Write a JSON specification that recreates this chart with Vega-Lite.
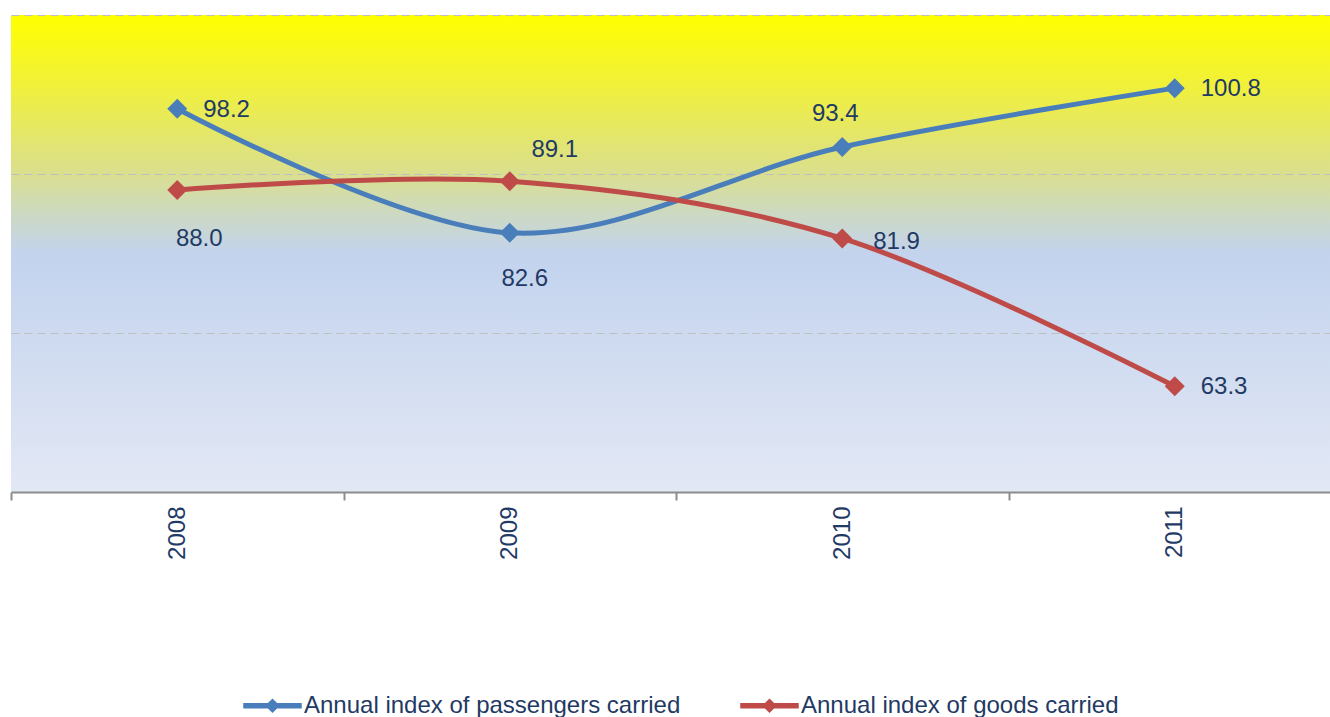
{
  "$schema": "https://vega.github.io/schema/vega-lite/v6.json",
  "autosize": "none",
  "width": 1319,
  "height": 477,
  "padding": {"left": 11, "top": 15, "right": 0, "bottom": 225},
  "background": "white",
  "config": {
    "font": "Liberation Sans",
    "view": {
      "stroke": null,
      "fill": {
        "gradient": "linear",
        "x1": 0, "y1": 0, "x2": 0, "y2": 1,
        "stops": [
          {"offset": 0, "color": "#FFFF00"},
          {"offset": 0.15, "color": "#F0F03C"},
          {"offset": 0.32, "color": "#DCE088"},
          {"offset": 0.42, "color": "#CCD9C4"},
          {"offset": 0.5, "color": "#C3D3EE"},
          {"offset": 0.7, "color": "#CFDBF0"},
          {"offset": 1, "color": "#E3E8F5"}
        ]
      }
    },
    "legend": {
      "title": null, "orient": "none", "direction": "horizontal", "legendX": 232, "legendY": 661,
      "symbolType": "M-1,-0.07L1,-0.07L1,0.07L-1,0.07Z M0,-0.22L0.22,0L0,0.22L-0.22,0Z",
      "symbolSize": 3249, "labelFontSize": 24, "labelColor": "#1F3A64",
      "labelOffset": 2, "columnPadding": 57, "labelLimit": 600, "labelFont": "Liberation Sans"
    }
  },
  "data": {
    "values": [
      {"year": "2008", "series": "Annual index of passengers carried", "value": 98.2},
      {"year": "2009", "series": "Annual index of passengers carried", "value": 82.6},
      {"year": "2010", "series": "Annual index of passengers carried", "value": 93.4},
      {"year": "2011", "series": "Annual index of passengers carried", "value": 100.8},
      {"year": "2008", "series": "Annual index of goods carried", "value": 88.0},
      {"year": "2009", "series": "Annual index of goods carried", "value": 89.1},
      {"year": "2010", "series": "Annual index of goods carried", "value": 81.9},
      {"year": "2011", "series": "Annual index of goods carried", "value": 63.3}
    ]
  },
  "encoding": {
    "x": {
      "field": "year", "type": "nominal", "sort": null,
      "scale": {"type": "band", "paddingInner": 0, "paddingOuter": 0, "range": [0, 1330]},
      "axis": {
        "title": null, "labelAngle": -90, "labelFontSize": 24, "labelColor": "#1F3A64",
        "labelPadding": 6, "tickSize": 8, "tickBand": "extent", "tickColor": "#8C8C8C", "tickWidth": 2,
        "domainColor": "#8C8C8C", "domainWidth": 2, "grid": false, "labelFont": "Liberation Sans"
      }
    },
    "y": {
      "field": "value", "type": "quantitative",
      "scale": {"domain": [50, 110], "nice": false, "zero": false},
      "axis": {
        "title": null, "values": [70, 90, 110], "labels": false, "ticks": false, "domain": false,
        "grid": true, "gridDash": [8, 5], "gridColor": "#BFBFBF", "gridWidth": 1
      }
    }
  },
  "layer": [
    {
      "mark": {"type": "line", "interpolate": "cardinal", "tension": 0, "strokeWidth": 5},
      "encoding": {
        "color": {
          "field": "series", "type": "nominal",
          "scale": {"domain": ["Annual index of passengers carried", "Annual index of goods carried"], "range": ["#4A7EBB", "#BE4B48"]}
        }
      }
    },
    {
      "mark": {"type": "point", "shape": "diamond", "filled": true, "size": 400, "opacity": 1},
      "encoding": {
        "color": {
          "field": "series", "type": "nominal",
          "scale": {"domain": ["Annual index of passengers carried", "Annual index of goods carried"], "range": ["#4A7EBB", "#BE4B48"]}
        }
      }
    },
    {
      "transform": [{"filter": "(datum.series == 'Annual index of passengers carried' && (datum.year == '2008' || datum.year == '2011')) || (datum.series == 'Annual index of goods carried' && datum.year == '2011')"}],
      "mark": {"type": "text", "align": "left", "baseline": "middle", "dx": 26, "dy": 1, "fontSize": 24, "color": "#1F3A64"},
      "encoding": {"text": {"field": "value", "type": "quantitative", "format": ".1f"}}
    },
    {
      "transform": [{"filter": "datum.series == 'Annual index of goods carried' && datum.year == '2010'"}],
      "mark": {"type": "text", "align": "left", "baseline": "middle", "dx": 31, "dy": 4, "fontSize": 24, "color": "#1F3A64"},
      "encoding": {"text": {"field": "value", "type": "quantitative", "format": ".1f"}}
    },
    {
      "transform": [{"filter": "datum.series == 'Annual index of passengers carried' && datum.year == '2010'"}],
      "mark": {"type": "text", "align": "center", "baseline": "middle", "dx": -7, "dy": -33, "fontSize": 24, "color": "#1F3A64"},
      "encoding": {"text": {"field": "value", "type": "quantitative", "format": ".1f"}}
    },
    {
      "transform": [{"filter": "datum.series == 'Annual index of passengers carried' && datum.year == '2009'"}],
      "mark": {"type": "text", "align": "center", "baseline": "middle", "dx": 15, "dy": 46, "fontSize": 24, "color": "#1F3A64"},
      "encoding": {"text": {"field": "value", "type": "quantitative", "format": ".1f"}}
    },
    {
      "transform": [{"filter": "datum.series == 'Annual index of goods carried' && datum.year == '2008'"}],
      "mark": {"type": "text", "align": "center", "baseline": "middle", "dx": 22, "dy": 49, "fontSize": 24, "color": "#1F3A64"},
      "encoding": {"text": {"field": "value", "type": "quantitative", "format": ".1f"}}
    },
    {
      "transform": [{"filter": "datum.series == 'Annual index of goods carried' && datum.year == '2009'"}],
      "mark": {"type": "text", "align": "center", "baseline": "middle", "dx": 45, "dy": -31, "fontSize": 24, "color": "#1F3A64"},
      "encoding": {"text": {"field": "value", "type": "quantitative", "format": ".1f"}}
    }
  ]
}
